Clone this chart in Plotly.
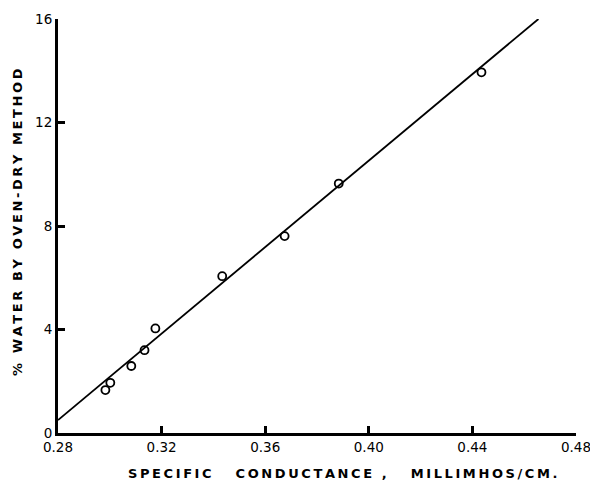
import plotly.graph_objects as go

# Measured data points (specific conductance, % water)
conductance = [0.2983, 0.3002, 0.3083, 0.3134, 0.3176, 0.3434, 0.3675, 0.3884, 0.4435]
water_pct = [1.66, 1.94, 2.59, 3.20, 4.04, 6.06, 7.61, 9.64, 13.94]

# Fitted straight line end points
fit_x = [0.28, 0.4655]
fit_y = [0.5, 16.0]

x_ticks = [0.28, 0.32, 0.36, 0.40, 0.44, 0.48]
x_tick_labels = ["0.28", "0.32", "0.36", "0.40", "0.44", "0.48"]
y_ticks = [0, 4, 8, 12, 16]
y_tick_labels = ["0", "4", "8", "12", "16"]

x_title = "SPECIFIC   CONDUCTANCE ,   MILLIMHOS/CM."
y_title = "% WATER BY OVEN-DRY METHOD"


def spaced(s):
    # thin spaces between letters to mimic the lettering-guide look
    return "\u2009".join(s)


fig = go.Figure()
fig.add_trace(go.Scatter(
    x=fit_x, y=fit_y, mode="lines",
    line=dict(color="black", width=1.8),
    showlegend=False, cliponaxis=False,
))
fig.add_trace(go.Scatter(
    x=conductance, y=water_pct, mode="markers",
    marker=dict(symbol="circle-open", size=8, color="black", line=dict(width=1.8)),
    showlegend=False, cliponaxis=False,
))

tick_font = dict(family="DejaVu Sans", size=13.5, color="black")
title_font = dict(family="DejaVu Sans", size=13, color="black")

fig.update_layout(
    width=590, height=492,
    margin=dict(l=58, r=14, t=19, b=59, autoexpand=False),
    paper_bgcolor="white", plot_bgcolor="white",
    xaxis=dict(
        range=[0.28, 0.48], tickvals=x_ticks, ticktext=x_tick_labels,
        ticks="inside", ticklen=7, tickwidth=2.5, tickcolor="black",
        showline=True, linewidth=3, linecolor="black",
        showgrid=False, zeroline=False, tickfont=tick_font,
        ticklabeloverflow="allow", automargin=False,
    ),
    yaxis=dict(
        range=[0, 16], tickvals=y_ticks, ticktext=y_tick_labels,
        ticks="inside", ticklen=7, tickwidth=2.5, tickcolor="black",
        showline=True, linewidth=3, linecolor="black",
        showgrid=False, zeroline=False, tickfont=tick_font,
        automargin=False,
    ),
    annotations=[
        dict(
            text="<b>" + spaced(x_title) + "</b>",
            xref="paper", yref="paper", x=0.55, y=-0.099,
            xanchor="center", yanchor="middle", showarrow=False,
            font=title_font,
        ),
        dict(
            text="<b>" + spaced(y_title) + "</b>",
            xref="paper", yref="paper", x=-0.077, y=0.51,
            xanchor="center", yanchor="middle", showarrow=False,
            textangle=-90, font=title_font,
        ),
    ],
)

fig.write_html(
    "out.html",
    config={"displayModeBar": False},
    post_script="document.body.style.margin='0';",
)
